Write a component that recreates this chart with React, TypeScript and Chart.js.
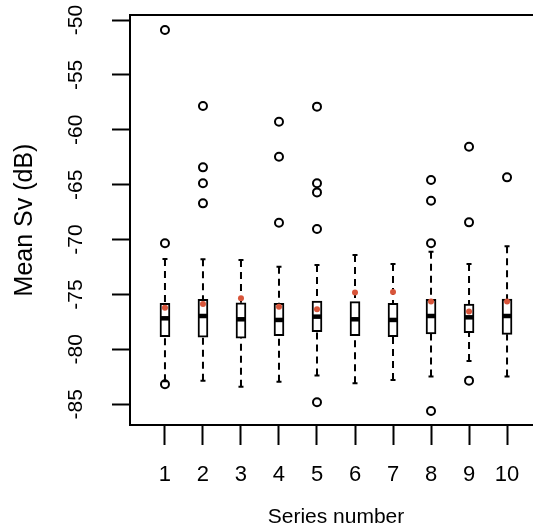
import { useEffect, useRef } from "react";
import { Chart, registerables } from "chart.js";

Chart.register(...registerables);
Chart.defaults.font.family = "'Liberation Sans', Arial, Helvetica, sans-serif";
Chart.defaults.color = "#000";

const categories = [1, 2, 3, 4, 5, 6, 7, 8, 9, 10];
const whiskerLow = [-82.9, -82.85, -83.4, -82.94, -82.39, -83.09, -82.79, -82.48, -81.06, -82.48];
const q1 = [-78.84, -78.9, -78.99, -78.75, -78.39, -78.75, -78.84, -78.6, -78.48, -78.63];
const median = [-77.17, -76.96, -77.26, -77.32, -77.02, -77.26, -77.32, -76.96, -77.08, -76.96];
const q3 = [-75.8, -75.44, -75.75, -75.8, -75.59, -75.65, -75.8, -75.44, -75.87, -75.41];
const whiskerHigh = [-71.77, -71.8, -71.86, -72.47, -72.31, -71.4, -72.22, -71.1, -72.22, -70.6];
const means = [-76.2, -75.87, -75.35, -76.11, -76.35, -74.83, -74.77, -75.65, -76.56, -75.65];
const outliers: number[][] = [
  [-50.91, -70.34, -83.18],
  [-57.83, -63.42, -64.87, -66.7],
  [],
  [-59.26, -62.45, -68.46],
  [-57.89, -64.87, -65.7, -69.04, -84.82],
  [],
  [],
  [-64.57, -66.46, -70.34, -85.61],
  [-61.54, -68.43, -82.85],
  [-64.33],
];
const yTicks = [-50, -55, -60, -65, -70, -75, -80, -85];

const boxPartsPlugin = {
  id: "boxParts",
  afterDatasetDraw(chart: any, args: any) {
    if (args.index !== 0) return;
    const { ctx, scales } = chart;
    const x = scales.x;
    const y = scales.y;
    ctx.save();
    ctx.strokeStyle = "#000";
    categories.forEach((c, i) => {
      const px = x.getPixelForValue(c);
      ctx.lineWidth = 2;
      ctx.setLineDash([7, 5]);
      ctx.beginPath();
      ctx.moveTo(px, y.getPixelForValue(whiskerHigh[i]));
      ctx.lineTo(px, y.getPixelForValue(q3[i]));
      ctx.moveTo(px, y.getPixelForValue(whiskerLow[i]));
      ctx.lineTo(px, y.getPixelForValue(q1[i]));
      ctx.stroke();
      ctx.setLineDash([]);
      ctx.beginPath();
      const hy = y.getPixelForValue(whiskerHigh[i]);
      const ly = y.getPixelForValue(whiskerLow[i]);
      ctx.moveTo(px - 2.5, hy);
      ctx.lineTo(px + 2.5, hy);
      ctx.moveTo(px - 2.5, ly);
      ctx.lineTo(px + 2.5, ly);
      ctx.stroke();
      ctx.lineWidth = 4.5;
      ctx.beginPath();
      const my = y.getPixelForValue(median[i]);
      ctx.moveTo(px - 4.5, my);
      ctx.lineTo(px + 4.5, my);
      ctx.stroke();
    });
    ctx.restore();
  },
  afterDraw(chart: any) {
    const { ctx, chartArea } = chart;
    ctx.save();
    ctx.strokeStyle = "#000";
    ctx.lineWidth = 2;
    ctx.strokeRect(chartArea.left, chartArea.top, chartArea.right - chartArea.left, chartArea.bottom - chartArea.top);
    ctx.restore();
  },
};

export default function App() {
  const ref = useRef<HTMLCanvasElement | null>(null);
  useEffect(() => {
    if (!ref.current) return;
    const outlierPts: { x: number; y: number }[] = [];
    outliers.forEach((arr, i) => arr.forEach((v) => outlierPts.push({ x: categories[i], y: v })));
    const chart = new Chart(ref.current, {
      type: "bar",
      data: {
        datasets: [
          {
            type: "bar",
            data: categories.map((c, i) => ({ x: c, y: [q1[i], q3[i]] })) as any,
            backgroundColor: "#ffffff",
            borderColor: "#000000",
            borderWidth: 2,
            borderSkipped: false,
            barThickness: 10,
            grouped: false,
            order: 3,
          } as any,
          {
            type: "scatter",
            data: outlierPts,
            pointRadius: 4,
            borderWidth: 2,
            borderColor: "#000000",
            backgroundColor: "rgba(0,0,0,0)",
            order: 2,
          } as any,
          {
            type: "scatter",
            data: categories.map((c, i) => ({ x: c, y: means[i] })),
            pointRadius: 3,
            borderWidth: 0,
            backgroundColor: "#d8553a",
            order: 1,
          } as any,
        ],
      },
      options: {
        responsive: false,
        animation: false,
        events: [],
        layout: { padding: { top: 15, right: 1, left: 0, bottom: 0 } },
        plugins: { legend: { display: false }, tooltip: { enabled: false } },
        scales: {
          x: {
            type: "linear",
            min: 0.08,
            max: 10.92,
            offset: false,
            afterBuildTicks: (s: any) => {
              s.ticks = categories.map((v) => ({ value: v }));
            },
            afterFit: (s: any) => {
              s.height = 106;
              s.paddingLeft = 0;
              s.paddingRight = 0;
            },
            ticks: {
              color: "#000",
              font: { size: 22 },
              padding: 17,
              autoSkip: false,
              maxRotation: 0,
              callback: (v: any) => String(v),
            },
            grid: {
              display: true,
              drawOnChartArea: false,
              drawTicks: true,
              tickLength: 20,
              tickWidth: 2,
              tickColor: "#000",
              offset: false,
            },
            border: { display: false },
            title: {
              display: true,
              text: "Series number",
              color: "#000",
              font: { size: 21 },
              padding: { top: 0, bottom: 1 },
            },
          },
          y: {
            type: "linear",
            min: -86.89,
            max: -49.54,
            afterBuildTicks: (s: any) => {
              s.ticks = yTicks.map((v) => ({ value: v }));
            },
            afterFit: (s: any) => {
              s.width = 130;
              s.paddingTop = 0;
              s.paddingBottom = 0;
            },
            ticks: {
              color: "#000",
              font: { size: 21 },
              padding: 21,
              minRotation: 90,
              maxRotation: 90,
              crossAlign: "center",
              autoSkip: false,
              callback: (v: any) => String(v),
            },
            grid: {
              display: true,
              drawOnChartArea: false,
              drawTicks: true,
              tickLength: 18,
              tickWidth: 2,
              tickColor: "#000",
            },
            border: { display: false },
            title: {
              display: true,
              text: "Mean Sv (dB)",
              color: "#000",
              font: { size: 25 },
              padding: { top: 10, bottom: 0 },
            },
          },
        },
      } as any,
      plugins: [boxPartsPlugin],
    });
    return () => chart.destroy();
  }, []);
  return (
    <div
      style={{
        position: "fixed",
        left: 0,
        top: 0,
        width: 533,
        height: 531,
        overflow: "hidden",
        background: "#fff",
      }}
    >
      <canvas ref={ref} width={548} height={531} style={{ display: "block" }} />
    </div>
  );
}
